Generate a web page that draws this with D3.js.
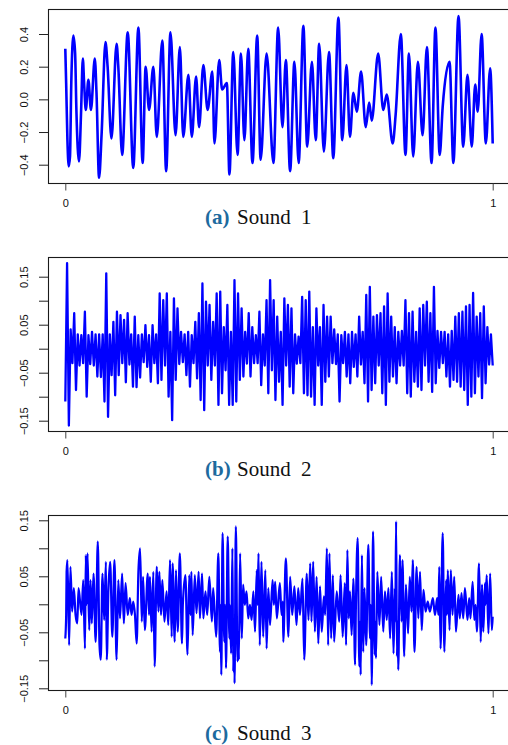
<!DOCTYPE html>
<html><head><meta charset="utf-8">
<script src="https://cdn.jsdelivr.net/npm/d3@7"></script>
<style>
html,body{margin:0;padding:0;background:#fff;}
svg{display:block;}
</style></head><body>
<svg id="chart" width="508" height="745"></svg>
<script>
// Sound 1: time (fraction of the clip) and amplitude at successive turning points
const sound1Time = [
  0, .002, .005, .008, .011, .014, .019, .023, .026, .032,
  .037, .041, .044, .048, .054, .060, .069, .073, .079, .085,
  .094, .099, .108, .120, .124, .133, .146, .159, .171, .181,
  .188, .196, .206, .214, .227, .236, .246, .258, .268, .276,
  .288, .296, .306, .313, .323, .333, .344, .349, .360, .367,
  .378, .384, .393, .403, .411, .419, .428, .438, .449, .457,
  .471,
  .487, .498, .508, .516, .526, .536, .546, .557, .566, .577,
  .586, .594, .605, .617, .627, .639, .648, .658, .666, .674,
  .682, .692, .703, .711, .717, .732, .744, .752, .766, .773,
  .785, .796, .804, .814, .825, .836, .846, .857, .866, .876,
  .883, .899, .908, .920, .931, .941, .951, .959, .965, .974,
  .984, .994, 1
];
const sound1Amp = [
  .31, .10, -.25, -.41, -.35, .10, .39, .28, -.07, -.38,
  -.07, .25, .10, -.065, .12, -.065, .25, .04, -.48, -.21,
  .35, .20, -.24, .34, .20, -.34, .41, -.42, .44, -.39,
  .20, -.065, .20, -.23, .36, -.44, .41, -.22, .32, -.23,
  .15, -.23, .14, -.17, .21, -.065, .17, -.27, .24, .06,
  .10, -.46, .29, -.34, .28, -.25, .31, -.39, .39, -.37,
  .28,
  -.39, .44, -.17, .24, -.44, .23, -.39, .45, -.29, .23,
  -.25, .34, -.32, .29, -.36, .50, -.25, .21, -.23, .04,
  -.075, .17, -.17, -.02, -.13, .28, -.065, .03, -.27, -.09,
  .40, -.34, .28, -.35, .23, -.22, .32, -.39, .44, -.34,
  -.045, .23, -.39, .51, -.29, .15, -.29, .09, -.075, .40,
  -.27, .19, -.27
];

// Sound 2: amplitude on an even time grid across the clip
const sound2Amp = [
  -.11, .178, -.16, .04, -.03, .074, -.086, .03, -.035, .028,
  -.03, .077, -.1, .028, -.032, .035, -.035, .03, -.058, .03,
  -.059, .03, -.11, .157, -.142, .03, -.055, .056, -.097, .077,
  -.055, .07, -.03, .06, -.07, .074, -.033, .03, -.079, .067,
  -.08, .028, -.06, .03, -.028, .049, -.038, .028, -.069, .049,
  -.03, .03, -.072, .115, -.065, .101, -.035, .115, -.10, .035,
  -.149, .105, -.065, .084, -.032, .035, -.028, .03, -.055, .035,
  -.079, .028, -.03, .056, -.062, .074, -.107, .136, -.128, .098,
  -.035, .091, -.065, .056, -.035, .115, -.117, .119, -.093, .045,
  -.045, .091, -.117, .035, -.117, .143, -.11, .115, -.065, .084,
  -.058, .035, -.031, .074, -.058, .045, -.03, .028, -.03, .077,
  -.076, .03, -.035, .101, -.093, .143, -.045, .101, -.107, .067,
  -.069, .035, -.117, .105, -.035, .091, -.079, .084, -.093, .03,
  -.031, .025, -.03, .108, -.093, .101, -.097, .119, -.10, .045,
  -.117, .084, -.035, .045, -.117, .091, -.069, .067, -.058, .067,
  -.03, .04, -.032, .03, -.11, .028, -.03, .035, -.058, .03,
  -.072, .035, -.038, .03, -.058, .067, -.033, .035, -.072, .112,
  -.11, .129, -.086, .067, -.072, .07, -.035, .074, -.093, .088,
  -.117, .115, -.069, .067, -.058, .045, -.072, .035, -.035, .037,
  -.035, .101, -.093, .074, -.1, .077, -.069, .035, -.079, .084,
  -.086, .091, -.035, .098, -.069, .074, -.09, .129, -.072, .037,
  -.04, .035, -.03, .035, -.058, .03, -.079, .037, -.065, .067,
  -.069, .074, -.079, .077, -.086, .088, -.117, .091, -.10, .116,
  -.093, .067, -.058, .074, -.103, .088, -.072, .045, -.033, .03,
  -.035
];

// Sound 3: time and amplitude at successive turning points
const sound3Time = [
  0, .002, .003, .005, .009, .012, .016, .020, .024, .028,
  .031, .038, .042, .046, .048, .050, .052, .056, .059, .062,
  .066, .071, .076, .080, .083, .087, .091, .095, .097, .101,
  .105, .110, .115, .120, .124, .128, .133, .137, .141, .146,
  .151, .155, .159, .163, .167, .171, .175, .179, .182, .186,
  .193, .196, .198, .202, .206, .209, .214, .218, .220, .224,
  .227, .232, .237, .241, .245, .249, .251, .256, .259, .263,
  .268, .273, .275, .281, .286, .290, .293, .295, .298, .303,
  .307, .312, .315, .320, .323, .328, .332, .337, .343, .346,
  .353, .358, .362, .363, .365, .368, .372, .374, .376, .380,
  .384, .385, .388, .391, .393, .395, .396, .399, .403, .405,
  .406, .409, .413, .416, .420, .424, .428, .432, .436, .440,
  .444, .448, .450, .452, .455, .459, .463, .468, .471, .475,
  .479, .485, .488, .491, .495, .502, .506, .509, .510, .516,
  .522, .526, .531, .536, .541, .545, .549, .555, .559, .565,
  .569, .573, .576, .580, .584, .588, .592, .596, .600, .605,
  .608, .612, .615, .618, .622, .626, .629, .635, .641, .644,
  .649, .654, .657, .660, .663, .666, .670, .674, .678, .680,
  .684, .688, .690, .691, .694, .697, .700, .704, .709, .713,
  .715, .717, .720, .724, .725, .727, .730, .735, .739, .744,
  .748, .752, .756, .760, .764, .768, .771, .772, .774, .776,
  .778, .779, .783, .787, .789, .793, .797, .802, .806, .810,
  .813, .817, .822, .826, .830, .834, .838, .843, .848, .853,
  .860, .865, .870, .873, .875, .878, .883, .887, .891, .893,
  .895, .899, .902, .906, .910, .914, .920, .923, .927, .931,
  .935, .941, .945, .948, .953, .957, .960, .963, .968, .972,
  .975, .978, .982, .983, .986, .990, .994, .998, 1
];
const sound3Amp = [
  -.061, -.019, .058, .079, -.073, .067, -.013, .029, -.019, -.034,
  .029, -.019, .043, -.079, .088, -.001, .091, -.046, .043, -.034,
  .055, -.067, .112, -.073, -.099, .055, -.028, .076, -.099, .029,
  .076, -.058, .079, -.099, .043, -.025, .055, -.034, .038, -.019,
  .011, -.019, .005, -.019, -.070, .058, .100, -.031, .049, -.046,
  .055, -.019, .049, -.049, .058, -.111, .067, -.013, .058, -.019,
  .043, -.031, .023, -.037, .079, -.058, .073, -.067, .061, -.049,
  .091, -.070, -.001, .052, -.090, .052, -.019, .058, -.055, .052,
  -.016, .058, -.025, .055, -.025, .023, -.019, .049, -.031, .029,
  -.058, .091, -.085, -.001, -.126, .127, -.067, -.001, -.114, .121,
  -.061, -.001, -.088, .100, -.120, -.031, -.141, .139, -.102, -.049,
  -.099, .091, -.061, .035, -.001, .023, -.025, -.001, -.028, .023,
  -.049, .061, -.001, .091, -.073, .076, -.058, .061, -.079, .029,
  -.037, .043, -.001, .040, -.025, .038, -.019, .005, -.067, .082,
  -.058, .049, -.019, .032, -.037, .029, -.019, .046, -.099, .055,
  -.028, .073, -.031, .076, -.049, .049, -.070, .032, -.049, .014,
  -.019, .100, -.073, .091, -.061, .052, -.067, .023, -.031, .052,
  -.058, .038, -.073, .097, -.025, .023, -.055, .046, -.108, -.001,
  .118, -.111, -.031, -.126, .088, -.085, .029, -.073, .106, -.061,
  -.001, -.144, .130, -.090, -.031, -.096, .058, -.037, .049, -.049,
  .023, -.028, .029, -.061, .058, -.088, .029, -.031, .148, -.093,
  -.031, -.117, .088, -.031, .079, -.093, .035, -.052, .049, -.013,
  .079, -.085, .067, -.025, .058, -.046, .026, -.013, .005, -.013,
  .011, -.019, .011, -.019, .067, -.079, .127, -.085, .043, -.019,
  .061, -.046, .061, -.019, .049, -.049, .017, -.025, .020, -.025,
  .029, -.028, .011, -.025, .040, -.028, -.001, -.049, .073, -.067,
  .035, -.049, .038, -.001, .052, -.052, .055, -.046, -.022
];

// Axis ticks and labels
const xTickValues = [0, 1];
const xTickLabels = ["0", "1"];
const yTicksSound1 = [-0.4, -0.2, 0, 0.2, 0.4];
const yLabelsSound1 = ["\u22120.4", "\u22120.2", "0.0", "0.2", "0.4"];
const yTicksSmall = [-0.15, -0.10, -0.05, 0, 0.05, 0.10, 0.15];
const yLabelsSmall = ["\u22120.15", "", "\u22120.05", "", "0.05", "", "0.15"];

// Sub-figure captions
const captionTags = ["(a)", "(b)", "(c)"];
const captionWords = ["Sound", "Sound", "Sound"];
const captionNumbers = ["1", "2", "3"];

const svg = d3.select("#chart");
const BOX_LEFT = 48.5, BOX_RIGHT = 511;
const x = d3.scaleLinear().domain([0, 1]).range([65.3, 492.7]);

const panels = [
  { top: 9.5, bottom: 183.5, yDomain: [-0.4, 0.4], yRange: [164.7, 34],
    ticks: yTicksSound1, labels: yLabelsSound1,
    points: d3.zip(sound1Time, sound1Amp), lineWidth: 2.6, curve: d3.curveMonotoneX, captionY: 224 },
  { top: 257.5, bottom: 431.5, yDomain: [-0.15, 0.15], yRange: [420.7, 276.7],
    ticks: yTicksSmall, labels: yLabelsSmall,
    points: sound2Amp.map((v, i) => [i / (sound2Amp.length - 1), v]), lineWidth: 2.3, curve: d3.curveLinear, captionY: 476 },
  { top: 515.5, bottom: 690.5, yDomain: [-0.15, 0.15], yRange: [688.3, 520.3],
    ticks: yTicksSmall, labels: yLabelsSmall,
    points: d3.zip(sound3Time, sound3Amp), lineWidth: 2.2, curve: d3.curveMonotoneX, captionY: 740 }
];

const axisFont = "'Liberation Sans', Arial, Helvetica, sans-serif";

panels.forEach((p, k) => {
  const y = d3.scaleLinear().domain(p.yDomain).range(p.yRange);
  const g = svg.append("g");

  const clipId = "clip" + k;
  g.append("clipPath").attr("id", clipId)
    .append("rect")
    .attr("x", BOX_LEFT).attr("y", p.top)
    .attr("width", BOX_RIGHT - BOX_LEFT).attr("height", p.bottom - p.top);

  // waveform
  const line = d3.line().curve(p.curve).x(d => x(d[0])).y(d => y(d[1]));
  g.append("path")
    .datum(p.points)
    .attr("clip-path", `url(#${clipId})`)
    .attr("fill", "none")
    .attr("stroke", "#0000ff")
    .attr("stroke-width", p.lineWidth)
    .attr("stroke-linejoin", "round")
    .attr("d", line);

  // frame
  g.append("rect")
    .attr("x", BOX_LEFT).attr("y", p.top)
    .attr("width", BOX_RIGHT - BOX_LEFT).attr("height", p.bottom - p.top)
    .attr("fill", "none").attr("stroke", "#1a1a1a").attr("stroke-width", 1.1);

  // y axis with rotated labels
  const yAxis = d3.axisLeft(y).tickValues(p.ticks).tickSize(9.5)
    .tickFormat((d, i) => p.labels[i]);
  const gy = g.append("g").attr("transform", `translate(${BOX_LEFT},0)`).call(yAxis);
  gy.select(".domain").remove();
  gy.attr("font-family", axisFont).attr("font-size", 11).attr("color", "#222");
  gy.selectAll(".tick text")
    .attr("x", null).attr("dy", null)
    .attr("text-anchor", "middle")
    .attr("fill", "#111")
    .attr("transform", "translate(-20.5,0) rotate(-90)");

  // x axis
  const xAxis = d3.axisBottom(x).tickValues(xTickValues).tickSize(7).tickPadding(8.5)
    .tickFormat((d, i) => xTickLabels[i]);
  const gx = g.append("g").attr("transform", `translate(0,${p.bottom})`).call(xAxis);
  gx.select(".domain").remove();
  gx.attr("font-family", axisFont).attr("font-size", 11).attr("color", "#444");
  gx.selectAll(".tick text").attr("fill", "#111");

  // caption
  const cap = svg.append("text")
    .attr("y", p.captionY)
    .attr("font-family", "'Liberation Serif', 'Times New Roman', serif")
    .attr("font-size", 21);
  cap.append("tspan").attr("x", 205).attr("font-weight", "bold").attr("fill", "#1d6a9e")
    .text(captionTags[k]);
  cap.append("tspan").attr("x", 237).attr("fill", "#111").text(captionWords[k]);
  cap.append("tspan").attr("x", 301).attr("fill", "#111").text(captionNumbers[k]);
});
</script>
</body></html>
